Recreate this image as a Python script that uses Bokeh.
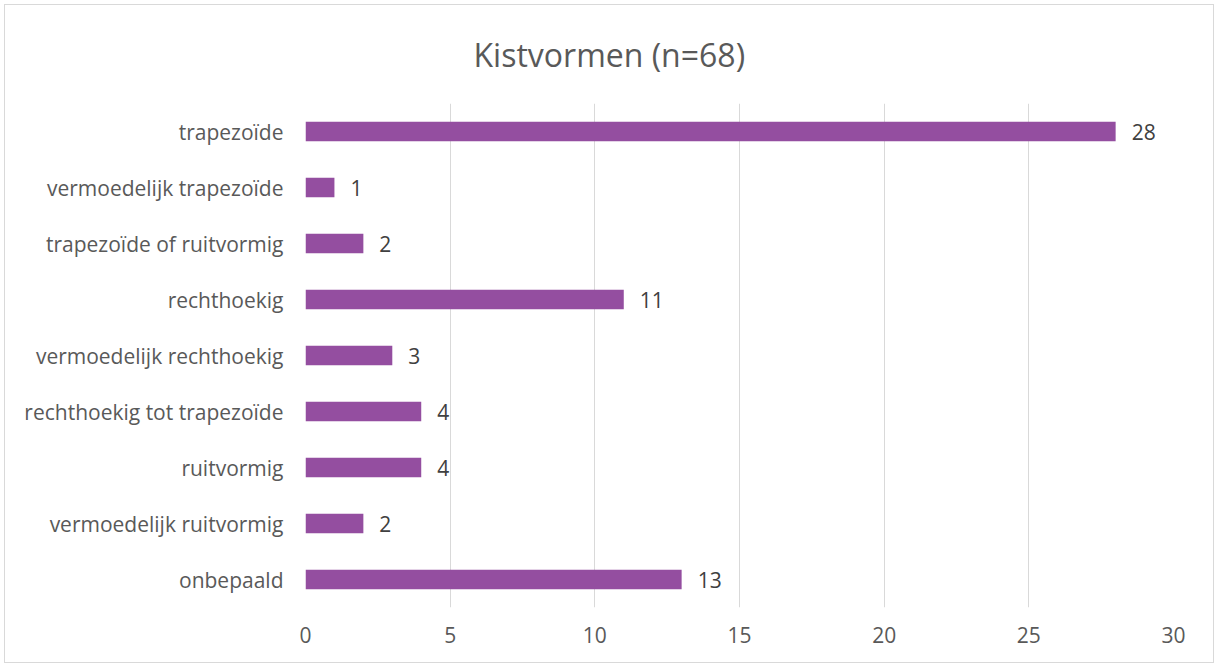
from bokeh.plotting import figure
from bokeh.models import FactorRange, ColumnDataSource, LabelSet, FixedTicker, Range1d
from bokeh.core.properties import value
from bokeh.embed import file_html
from bokeh.resources import INLINE

categories = ["trapezoïde", "vermoedelijk trapezoïde", "trapezoïde of ruitvormig",
              "rechthoekig", "vermoedelijk rechthoekig", "rechthoekig tot trapezoïde",
              "ruitvormig", "vermoedelijk ruitvormig", "onbepaald"]
counts = [28, 1, 2, 11, 3, 4, 4, 2, 13]
x_ticks = [0, 5, 10, 15, 20, 25, 30]
title_text = "Kistvormen (n=68)"

FONT = "Open Sans"
src = ColumnDataSource(dict(cat=categories, val=counts, lab=[str(v) for v in counts]))

W, H = 1210, 659
p = figure(width=W, height=H, output_backend="svg", toolbar_location=None,
           y_range=FactorRange(*reversed(categories)), x_range=Range1d(0, 30),
           title=title_text)
p.min_border_left = 300
p.min_border_right = 42
p.min_border_top = 98
p.min_border_bottom = 57
p.outline_line_color = None
p.styles = {"border": "1px solid #d9d9d9", "margin-left": "4px", "margin-top": "4px"}

p.title.align = "left"
p.title.vertical_align = "top"
p.title.offset = 168
p.title.standoff = 52
p.title.text_font = FONT
p.title.text_font_size = "32px"
p.title.text_font_style = "normal"
p.title.text_color = "#595959"

p.hbar(y="cat", right="val", left=0, height=0.35, source=src,
       fill_color="#944EA0", line_color=None)

labels = LabelSet(x="val", y="cat", text="lab", source=src, x_offset=16,
                  text_baseline="middle", text_font=value(FONT), text_font_size="21px",
                  text_color="#404040")
p.add_layout(labels)

p.xaxis.ticker = FixedTicker(ticks=x_ticks)
for ax in (p.xaxis[0], p.yaxis[0]):
    ax.axis_line_color = None
    ax.major_tick_line_color = None
    ax.minor_tick_line_color = None
    ax.major_label_text_font = FONT
    ax.major_label_text_font_size = "21px"
    ax.major_label_text_color = "#595959"
p.xaxis.major_label_standoff = 13
p.yaxis.major_label_standoff = 16

p.xgrid.grid_line_color = "#d9d9d9"
p.ygrid.grid_line_color = None

open("out.html", "w").write(file_html(p, INLINE))
